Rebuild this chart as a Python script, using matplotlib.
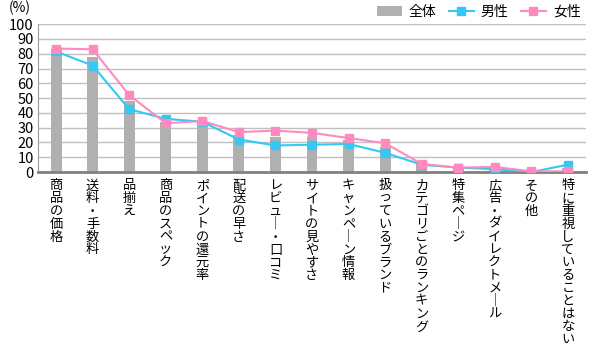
import matplotlib
matplotlib.use("Agg")
import matplotlib.pyplot as plt
import numpy as np

plt.rcParams['font.family'] = ['Noto Sans CJK JP', 'DejaVu Sans']

# データ
categories = ["商品の価格", "送料・手数料", "品揃え", "商品のスペック", "ポイントの還元率",
              "配送の早さ", "レビュー・口コミ", "サイトの見やすさ", "キャンペーン情報",
              "扱っているブランド", "カテゴリごとのランキング", "特集ページ",
              "広告・ダイレクトメール", "その他", "特に重視していることはない"]
zentai = [83, 78, 48, 34, 34, 25, 24, 23.5, 21.5, 17, 6, 3, 3, 1, 3]
dansei = [81.5, 72, 42.5, 36, 34, 22, 18, 18.5, 19, 13, 5, 3, 2, 0, 5]
josei = [83.5, 83, 52, 33, 34.5, 27, 28, 26.5, 23, 19.5, 5.5, 3, 3.5, 0.5, 0.5]
yticks = list(range(0, 101, 10))


def tate(s):
    # 縦書き用に一文字ずつ改行、長音は縦棒に
    return "\n".join(s.replace("ー", "｜"))


fig = plt.figure(figsize=(6, 3.6), dpi=100)
ax = fig.add_axes([0.063, 0.522, 0.914, 0.411])

x = np.arange(len(categories))
b = ax.bar(x, zentai, width=0.3, color="#b0b0b0", zorder=2, label="全体")
l1, = ax.plot(x, dansei, color="#33c8f5", marker="s", markersize=5.5, lw=1.5, zorder=3, label="男性")
l2, = ax.plot(x, josei, color="#ff8ac0", marker="s", markersize=5.5, lw=1.5, zorder=4, label="女性")

ax.set_xlim(-0.5, len(categories) - 0.5)
ax.set_ylim(0, 100)
ax.set_yticks(yticks)
ax.tick_params(axis="y", length=0, labelsize=10.5, pad=3)
ax.tick_params(axis="x", length=0)
ax.set_xticks(x)
ax.set_xticklabels([])
ax.grid(axis="y", color="#c0c0c0", lw=1, zorder=0)
for s in ["top", "right"]:
    ax.spines[s].set_visible(False)
ax.spines["left"].set_color("#999999")
ax.spines["bottom"].set_color("#808080")
ax.spines["bottom"].set_linewidth(2)

for i, c in enumerate(categories):
    ax.text(i, -5, tate(c), ha="center", va="top", fontsize=9.5, linespacing=0.98,
            transform=ax.transData)

fig.text(0.015, 0.998, "(%)", fontsize=10, va="top")

ax.legend([b, l1, l2], ["全体", "男性", "女性"], loc="lower right",
          bbox_to_anchor=(1.0, 1.0), ncol=3, frameon=False,
          fontsize=10, handlelength=1.8, handletextpad=0.5, columnspacing=0.9,
          borderaxespad=0.0)

fig.savefig("out.png", dpi=100)
